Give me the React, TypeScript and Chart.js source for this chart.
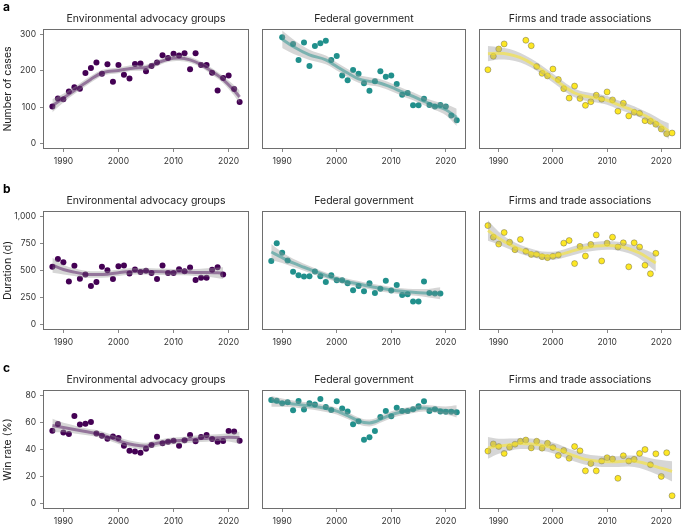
import React, { useEffect, useRef } from "react";
import Chart from "chart.js/auto";

const FONT = "Inter, 'Noto Sans', sans-serif";
Chart.defaults.font.family = FONT;

// shared x axis
const yearTicks = [1990, 2000, 2010, 2020];
const xMin = 1986.3;
const xMax = 2023.7;

const years = [
  1988, 1989, 1990, 1991, 1992, 1993, 1994, 1995, 1996, 1997, 1998, 1999,
  2000, 2001, 2002, 2003, 2004, 2005, 2006, 2007, 2008, 2009, 2010, 2011,
  2012, 2013, 2014, 2015, 2016, 2017, 2018, 2019, 2020, 2021, 2022
];
const durationYears = [
  1988, 1989, 1990, 1991, 1992, 1993, 1994, 1995, 1996, 1997, 1998, 1999,
  2000, 2001, 2002, 2003, 2004, 2005, 2006, 2007, 2008, 2009, 2010, 2011,
  2012, 2013, 2014, 2015, 2016, 2017, 2018, 2019
];

const groupTitles = [
  "Environmental advocacy groups",
  "Federal government",
  "Firms and trade associations"
];
const rowLetters = ["a", "b", "c"];
const rowTitles = ["Number of cases", "Duration (d)", "Win rate (%)"];

// ---- a: number of cases
const casesTicks = [0, 100, 200, 300];
const envCases = [102, 124, 122, 143, 155, 151, 194, 208, 223, 192, 218, 170, 216, 189, 179, 219, 220, 199, 213, 223, 243, 235, 247, 242, 248, 204, 248, 216, 216, 195, 146, 180, 187, 150, 114];
const fedCases = [null, null, 292, null, 274, 230, 278, 213, 268, 276, 283, 230, 241, 187, 174, 202, 192, 166, 145, 171, 199, 184, 187, 164, 134, 139, 105, 105, 123, 106, 102, 106, 102, 77, 64];
const firmCases = [203, 240, 260, 274, null, null, null, 284, 269, 212, 193, 186, 205, 176, 151, 125, 158, 124, 105, 115, 133, 122, 142, 120, 89, 111, 76, 86, 83, 63, 61, 53, 40, 27, 29];

const envCasesFitYears = [1988, 1990, 1992, 1995, 1997, 2000, 2003, 2005, 2007, 2009, 2011, 2013, 2015, 2017, 2019, 2021, 2022];
const envCasesFit = [104, 125, 146, 177, 194, 201, 208, 209, 221, 232, 235, 230, 217, 198, 176, 146, 128];
const envCasesBand = [18, 12, 10, 9, 8, 8, 8, 8, 8, 8, 8, 8, 8, 9, 10, 14, 18];

const fedCasesFitYears = [1990, 1992, 1995, 1998, 2000, 2002, 2004, 2006, 2008, 2010, 2012, 2014, 2016, 2018, 2020, 2022];
const fedCasesFit = [287, 267, 244, 230, 212, 194, 178, 171, 166, 155, 142, 130, 116, 104, 93, 72];
const fedCasesBand = [24, 20, 14, 12, 11, 11, 11, 11, 11, 11, 11, 11, 11, 12, 15, 24];

const firmCasesFitYears = [1988, 1990, 1992, 1994, 1996, 1998, 2000, 2002, 2004, 2006, 2008, 2010, 2012, 2014, 2016, 2018, 2020, 2021.4];
const firmCasesFit = [247, 248, 245, 236, 221, 202, 180, 158, 139, 130, 125, 119, 107, 96, 84, 69, 49, 34];
const firmCasesBand = [21, 17, 15, 13, 12, 12, 12, 12, 12, 12, 12, 12, 12, 12, 12, 13, 16, 22];

// ---- b: duration
const durationTicks = [0, 250, 500, 750, 1000];
const envDuration = [534, 607, 576, 399, 543, 424, 463, 357, 393, 534, 503, 421, 540, 546, 473, 509, 485, 497, 476, 421, 546, 476, 476, 512, 494, 527, 412, 433, 433, 506, 530, 463];
const fedDuration = [588, 753, 665, 592, 488, 457, 445, 448, 491, 448, 393, 457, 409, 409, 381, 317, 357, 308, 381, 293, 332, 406, 314, 366, 274, 280, 213, 213, 399, 293, 287, 287];
const firmDuration = [915, 808, 744, 851, 762, 692, 787, 677, 649, 649, 628, 619, 631, 643, 753, 777, 564, 723, 634, 741, 829, 588, 753, 808, 717, 756, 534, 756, 717, 549, 470, 659];

const durationFitYears = [1988, 1990, 1992, 1994, 1996, 1998, 2000, 2002, 2004, 2006, 2008, 2010, 2012, 2014, 2016, 2019];
const envDurationFit = [549, 509, 485, 466, 463, 466, 479, 491, 494, 491, 488, 485, 485, 482, 482, 476];
const envDurationBand = [70, 45, 35, 32, 30, 30, 30, 30, 30, 30, 30, 30, 30, 32, 38, 55];
const fedDurationFit = [671, 619, 570, 530, 491, 454, 421, 396, 375, 354, 335, 320, 308, 299, 293, 290];
const fedDurationBand = [75, 50, 38, 32, 30, 28, 28, 28, 28, 28, 28, 28, 28, 30, 35, 55];
const firmDurationFit = [869, 799, 741, 695, 662, 640, 637, 656, 686, 710, 726, 732, 726, 701, 662, 570];
const firmDurationBand = [95, 60, 45, 40, 38, 36, 36, 38, 40, 40, 40, 40, 40, 42, 50, 80];

// ---- c: win rate
const winTicks = [0, 20, 40, 60, 80];
const envWin = [53.8, 58.9, 52.6, 51.4, 64.7, 58.4, 59.1, 60.4, 51.9, 50.2, 48.0, 49.7, 48.5, 42.7, 39.0, 38.5, 37.6, 40.5, 43.4, 49.5, 44.6, 45.8, 46.5, 42.7, 46.8, 50.7, 46.1, 49.2, 50.7, 47.8, 45.8, 46.3, 53.6, 53.3, 46.5];
const fedWin = [76.6, 76.1, 74.2, 74.9, 69.1, 75.9, 69.6, 74.2, 73.2, 77.3, 71.5, 69.3, 75.6, 70.3, 68.1, 58.7, 60.8, 47.3, 49.0, 53.6, 64.0, 68.4, 64.5, 70.8, 68.4, 68.4, 69.8, 72.0, 75.6, 68.4, 69.8, 68.1, 67.9, 67.9, 67.6];
const firmWin = [38.8, 44.1, 42.2, 37.1, 41.7, 43.9, 46.1, 47.0, 41.2, 46.1, 41.0, 44.6, 41.5, 35.6, 39.3, 33.5, 42.2, 39.0, 24.2, 29.6, 24.2, 31.5, 33.9, 33.0, 18.7, 35.4, 31.5, 32.7, 37.1, 40.0, 28.8, 36.8, 20.1, 37.6, 5.8];

const envWinFitYears = [1988, 1990, 1992, 1994, 1996, 1998, 2000, 2002, 2004, 2005, 2006, 2008, 2010, 2012, 2014, 2016, 2018, 2020, 2022];
const envWinFit = [57.7, 56.2, 54.8, 53.3, 51.9, 49.5, 46.5, 44.1, 42.7, 42.4, 43.6, 45.3, 46.3, 47.0, 47.8, 48.2, 48.7, 49.0, 48.7];
const envWinBand = [5, 3.5, 3, 2.5, 2.5, 2.5, 2.5, 2.5, 2.5, 2.5, 2.5, 2.5, 2.5, 2.5, 2.5, 2.5, 2.5, 3, 4.5];

const fedWinFitYears = [1988, 1990, 1992, 1994, 1996, 1998, 2000, 2002, 2004, 2005, 2006, 2007, 2008, 2010, 2012, 2014, 2016, 2018, 2020, 2022];
const fedWinFit = [75.6, 74.7, 73.7, 72.7, 71.8, 70.3, 68.4, 65.0, 61.1, 59.9, 59.6, 60.5, 62.3, 65.7, 67.9, 69.4, 70.6, 69.8, 68.8, 68.2];
const fedWinBand = [4, 3, 2.5, 2.5, 2.5, 2.5, 2.5, 2.5, 2.5, 2.5, 2.5, 2.5, 2.5, 2.5, 2.5, 2.5, 2.5, 2.5, 3, 4.5];

const firmWinFitYears = [1988, 1990, 1992, 1994, 1996, 1998, 2000, 2002, 2004, 2006, 2008, 2010, 2012, 2014, 2016, 2018, 2020, 2022];
const firmWinFit = [41.2, 42.4, 43.6, 44.4, 44.1, 43.1, 41.2, 38.3, 35.2, 32.7, 31.5, 31.0, 31.0, 31.5, 30.8, 28.6, 26.2, 23.8];
const firmWinBand = [8, 5.5, 4.5, 4, 4, 4, 4, 4, 4, 4, 4, 4, 4, 4, 4.5, 5, 6, 7.5];

// group colours (viridis ends + middle)
const groupColors = ["#440154", "#21908C", "#FDE725"];
const fitColors = ["rgba(68,1,84,0.45)", "rgba(33,144,140,0.5)", "rgba(253,231,37,0.55)"];
const bandColor = "rgba(153,153,153,0.4)";

// layout of the grid (plot boxes)
const boxLefts = [43, 260, 476];
const boxWidth = 208;
const boxTops = [29, 211, 390];
const boxHeights = [120, 119, 119];

const boxPlugin = {
  id: "panelBox",
  afterDatasetsDraw(chart: Chart) {
    const { ctx, chartArea: a } = chart;
    const l = Math.round(a.left) + 0.5;
    const t = Math.round(a.top) + 0.5;
    const r = Math.round(a.right) - 0.5;
    const b = Math.round(a.bottom) - 0.5;
    ctx.save();
    ctx.strokeStyle = "#6e6e6e";
    ctx.lineWidth = 1;
    ctx.strokeRect(l, t, r - l, b - t);
    ctx.restore();
  }
};

type PanelProps = {
  row: number;
  col: number;
  xs: number[];
  values: (number | null)[];
  fitYears: number[];
  fit: number[];
  band: number[];
  yMin: number;
  yMax: number;
  yTicks: number[];
};

const Panel: React.FC<PanelProps> = (p) => {
  const canvasRef = useRef<HTMLCanvasElement>(null);
  const first = p.col === 0;
  const left = first ? 0 : boxLefts[p.col] - 2;
  const width = first ? boxLefts[0] + boxWidth + 2 : boxWidth + 4;
  const top = boxTops[p.row] - 20;
  const height = 20 + boxHeights[p.row] + 24;

  useEffect(() => {
    if (!canvasRef.current) return;
    const pts = p.xs
      .map((x, i) => ({ x, y: p.values[i] }))
      .filter((d) => d.y !== null);
    const lo = p.fitYears.map((x, i) => ({ x, y: p.fit[i] - p.band[i] }));
    const hi = p.fitYears.map((x, i) => ({ x, y: p.fit[i] + p.band[i] }));
    const mid = p.fitYears.map((x, i) => ({ x, y: p.fit[i] }));
    const isYellow = p.col === 2;

    const chart = new Chart(canvasRef.current, {
      type: "scatter",
      data: {
        datasets: [
          {
            data: pts,
            backgroundColor: groupColors[p.col],
            borderColor: isYellow ? "rgba(70,70,70,0.55)" : groupColors[p.col],
            borderWidth: isYellow ? 0.7 : 0,
            pointRadius: 3,
            order: 3
          },
          {
            data: lo,
            showLine: true,
            borderColor: "transparent",
            borderWidth: 0,
            pointRadius: 0,
            cubicInterpolationMode: "monotone",
            fill: false,
            order: 2
          },
          {
            data: hi,
            showLine: true,
            borderColor: "transparent",
            borderWidth: 0,
            pointRadius: 0,
            cubicInterpolationMode: "monotone",
            fill: "-1",
            backgroundColor: bandColor,
            order: 2
          },
          {
            data: mid,
            showLine: true,
            borderColor: fitColors[p.col],
            borderWidth: 3,
            pointRadius: 0,
            cubicInterpolationMode: "monotone",
            fill: false,
            order: 1
          }
        ]
      },
      options: {
        animation: false,
        responsive: true,
        maintainAspectRatio: false,
        events: [],
        layout: { padding: { left: first ? 0 : 2, right: 2, top: 0, bottom: 0 } },
        plugins: {
          legend: { display: false },
          tooltip: { enabled: false },
          title: {
            display: true,
            fullSize: false,
            text: groupTitles[p.col],
            color: "#222",
            font: { size: 10.5, weight: "normal" },
            padding: { top: 3.7, bottom: 3.7 }
          }
        },
        scales: {
          x: {
            type: "linear",
            min: xMin,
            max: xMax,
            afterBuildTicks: (axis: any) => {
              axis.ticks = yearTicks.map((value) => ({ value }));
            },
            afterFit: (axis: any) => {
              axis.height = 24;
            },
            ticks: {
              callback: (v: any) => String(v),
              color: "#333",
              font: { size: 8.5 },
              padding: 4,
              maxRotation: 0
            },
            grid: {
              display: true,
              drawOnChartArea: false,
              drawTicks: true,
              tickLength: 3,
              color: "#888"
            },
            border: { display: false }
          },
          y: {
            type: "linear",
            display: first,
            min: p.yMin,
            max: p.yMax,
            afterBuildTicks: (axis: any) => {
              axis.ticks = p.yTicks.map((value) => ({ value }));
            },
            afterFit: (axis: any) => {
              axis.width = first ? boxLefts[0] : 0;
            },
            ticks: {
              callback: (v: any) => Number(v).toLocaleString("en-US"),
              color: "#333",
              font: { size: 8.5 },
              padding: 4
            },
            grid: {
              display: true,
              drawOnChartArea: false,
              drawTicks: true,
              tickLength: 3,
              color: "#888"
            },
            border: { display: false },
            title: {
              display: true,
              text: rowTitles[p.row],
              color: "#222",
              font: { size: 10.5 },
              padding: { top: 1.5, bottom: 0 }
            }
          }
        }
      },
      plugins: [boxPlugin]
    });

    return () => {
      chart.destroy();
    };
  }, []);

  return (
    <div style={{ position: "absolute", left, top, width, height }}>
      <canvas ref={canvasRef}></canvas>
    </div>
  );
};

const App: React.FC = () => {
  const rows = [
    {
      xs: years,
      yMin: -15,
      yMax: 315,
      yTicks: casesTicks,
      panels: [
        { values: envCases, fitYears: envCasesFitYears, fit: envCasesFit, band: envCasesBand },
        { values: fedCases, fitYears: fedCasesFitYears, fit: fedCasesFit, band: fedCasesBand },
        { values: firmCases, fitYears: firmCasesFitYears, fit: firmCasesFit, band: firmCasesBand }
      ]
    },
    {
      xs: durationYears,
      yMin: -50,
      yMax: 1050,
      yTicks: durationTicks,
      panels: [
        { values: envDuration, fitYears: durationFitYears, fit: envDurationFit, band: envDurationBand },
        { values: fedDuration, fitYears: durationFitYears, fit: fedDurationFit, band: fedDurationBand },
        { values: firmDuration, fitYears: durationFitYears, fit: firmDurationFit, band: firmDurationBand }
      ]
    },
    {
      xs: years,
      yMin: -4,
      yMax: 84,
      yTicks: winTicks,
      panels: [
        { values: envWin, fitYears: envWinFitYears, fit: envWinFit, band: envWinBand },
        { values: fedWin, fitYears: fedWinFitYears, fit: fedWinFit, band: fedWinBand },
        { values: firmWin, fitYears: firmWinFitYears, fit: firmWinFit, band: firmWinBand }
      ]
    }
  ];

  return (
    <div
      style={{
        position: "absolute",
        left: 0,
        top: 0,
        width: 685,
        height: 525,
        overflow: "hidden",
        background: "#fff",
        fontFamily: FONT
      }}
    >
      {rows.map((r, ri) =>
        r.panels.map((pn, ci) => (
          <Panel
            key={`${ri}-${ci}`}
            row={ri}
            col={ci}
            xs={r.xs}
            values={pn.values}
            fitYears={pn.fitYears}
            fit={pn.fit}
            band={pn.band}
            yMin={r.yMin}
            yMax={r.yMax}
            yTicks={r.yTicks}
          />
        ))
      )}
      {rowLetters.map((l, i) => (
        <div
          key={l}
          style={{
            position: "absolute",
            left: 3,
            top: boxTops[i] - 29,
            fontSize: 12,
            fontWeight: 700,
            lineHeight: "14px",
            color: "#000"
          }}
        >
          {l}
        </div>
      ))}
    </div>
  );
};

export default App;
